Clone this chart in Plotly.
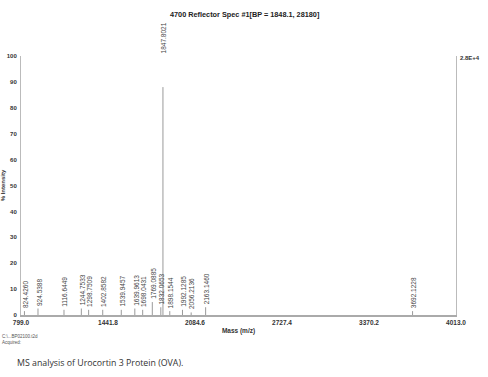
import plotly.graph_objects as go

# Peak data (m/z, % intensity)
peak_mz = [824.4260, 924.5388, 1116.6449, 1244.7533, 1298.7509, 1402.8582,
           1539.9457, 1639.9613, 1698.0431, 1769.0885, 1832.0653, 1847.8021,
           1898.1544, 1992.1285, 2056.2136, 2163.1460, 3692.1228]
peak_int = [1.5, 2.5, 2.0, 2.5, 2.0, 2.0,
            2.0, 2.5, 2.0, 5.0, 3.0, 88.0,
            1.5, 2.0, 1.0, 3.0, 1.5]
peak_labels = ["824.4260", "924.5388", "1116.6449", "1244.7533", "1298.7509", "1402.8582",
               "1539.9457", "1639.9613", "1698.0431", "1769.0885", "1832.0653", "1847.8021",
               "1898.1544", "1992.1285", "2056.2136", "2163.1460", "3692.1228"]

x_ticks = [799.0, 1441.8, 2084.6, 2727.4, 3370.2, 4013.0]
x_tick_text = ["799.0", "1441.8", "2084.6", "2727.4", "3370.2", "4013.0"]
y_ticks = [0, 10, 20, 30, 40, 50, 60, 70, 80, 90, 100]
y_tick_text = ["0", "10", "20", "30", "40", "50", "60", "70", "80", "90", "100"]

title_text = "4700 Reflector Spec #1[BP = 1848.1, 28180]"
caption = "MS analysis of Urocortin 3 Protein (OVA)."

W, H = 488, 377
pl, pr, pt, pb = 21, 32, 56, 62
pw, ph = W - pl - pr, H - pt - pb


def px(xp):
    return (xp - pl) / pw


def py(yp):
    return (H - pb - yp) / ph


xs, ys = [], []
for m, v in zip(peak_mz, peak_int):
    xs += [m, m, None]
    ys += [0, v, None]

fig = go.Figure()
fig.add_trace(go.Scatter(x=xs, y=ys, mode="lines",
                         line=dict(color="#9a9a9a", width=1), hoverinfo="skip",
                         showlegend=False))

for m, v, t in zip(peak_mz, peak_int, peak_labels):
    yy = 100 if v > 50 else v
    fig.add_annotation(x=m, y=yy, xref="x", yref="y", text=t, textangle=-90,
                       showarrow=False, yanchor="bottom", xanchor="center", yshift=1, xshift=1,
                       font=dict(size=6.5, color="#444", family="Liberation Sans"))

fig.update_layout(
    width=W, height=H,
    margin=dict(l=pl, r=pr, t=pt, b=pb, autoexpand=False),
    paper_bgcolor="white", plot_bgcolor="white",
    font=dict(family="Liberation Sans", color="#222"),
    showlegend=False,
    xaxis=dict(range=[799.0, 4013.0], tickvals=x_ticks, ticktext=["<b>" + s + "</b>" for s in x_tick_text],
               showgrid=False, zeroline=False, showline=True, linecolor="#aaaaaa", linewidth=1.5,
               ticks="", tickfont=dict(size=6.5, color="#333"), automargin=False,
               title=dict(text="<b>Mass (m/z)</b>", font=dict(size=6.5, color="#333"), standoff=4)),
    yaxis=dict(range=[0, 100], tickvals=y_ticks, ticktext=["<b>" + s + "</b>" for s in y_tick_text],
               showgrid=False, zeroline=False, showline=True, linecolor="#bbbbbb", linewidth=1,
               mirror=True, ticks="", tickfont=dict(size=6, color="#333"), automargin=False,
               ticklabelstandoff=2,
               title=dict(text="<b>% Intensity</b>", font=dict(size=6, color="#333"), standoff=2)),
)

fig.add_annotation(text="<b>" + title_text + "</b>", x=px(245), y=py(14), xref="paper", yref="paper",
                   showarrow=False, xanchor="center", yanchor="middle",
                   font=dict(size=7.3, color="#222"))
fig.add_annotation(text="<b>2.8E+4</b>", x=px(470), y=py(58), xref="paper", yref="paper",
                   showarrow=False, xanchor="center", yanchor="middle",
                   font=dict(size=6, color="#333"))
fig.add_annotation(text="C:\\...BP02100.t2d<br>Acquired:", x=px(0), y=py(332), xref="paper", yref="paper",
                   showarrow=False, xanchor="left", yanchor="top", align="left",
                   font=dict(size=4.5, color="#555"))
fig.add_annotation(text=caption, x=px(15), y=py(363), xref="paper", yref="paper",
                   showarrow=False, xanchor="left", yanchor="middle",
                   font=dict(size=8.8, color="#333", family="Open Sans"))

fig.write_html("out.html", config={"displayModeBar": False},
               post_script="document.body.style.margin='0';document.body.style.overflow='hidden';")
